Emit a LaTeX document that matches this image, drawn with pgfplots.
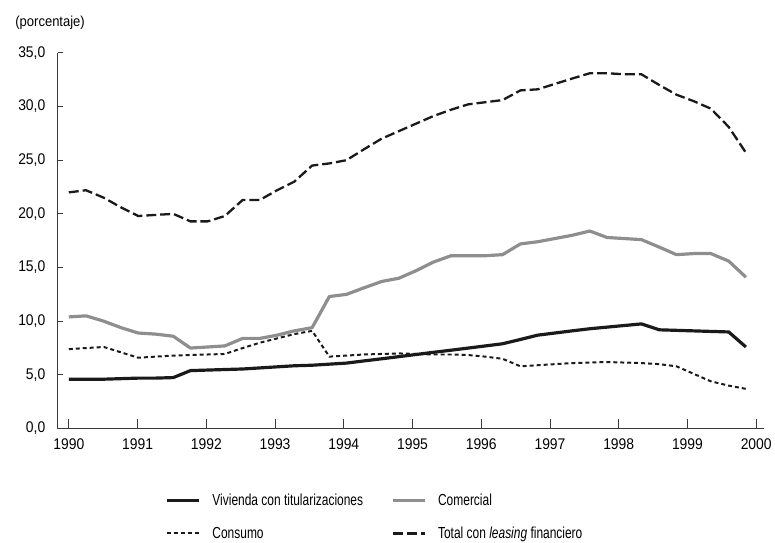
\documentclass[border=0pt]{standalone}
\usepackage{fontspec}
\setmainfont{Liberation Sans}
\newfontfamily\condfont{Liberation Sans}[FakeStretch=0.75]
\newfontfamily\semifont{Liberation Sans}[FakeStretch=0.9]
\usepackage{pgfplots}
\pgfplotsset{compat=1.18}
\usepackage{pgfplotstable}

\definecolor{lineblack}{HTML}{1A1A1A}
\definecolor{linegray}{HTML}{8E8E90}
\definecolor{axisgray}{HTML}{3A3A3A}

% quarterly series, x in years
\pgfplotstableread{
x       viv   com   con   tot
1990.00 4.60  10.4  7.40  22.0
1990.25 4.60  10.5  7.50  22.2
1990.51 4.60  10.0  7.60  21.5
1990.76 4.65  9.4   7.10  20.6
1991.01 4.70  8.9   6.60  19.8
1991.26 4.70  8.8   6.70  19.9
1991.52 4.75  8.6   6.80  20.0
1991.77 5.40  7.5   6.85  19.3
1992.02 5.45  7.6   6.90  19.3
1992.27 5.50  7.7   6.95  19.8
1992.53 5.55  8.4   7.50  21.3
1992.78 5.65  8.4   8.00  21.3
1993.03 5.75  8.7   8.40  22.2
1993.28 5.85  9.1   8.80  23.0
1993.54 5.90  9.4   9.10  24.5
1993.79 6.00  12.3  6.70  24.7
1994.04 6.10  12.5  6.80  25.0
1994.29 6.30  13.1  6.90  26.0
1994.55 6.50  13.7  6.95  27.0
1994.80 6.70  14.0  7.00  27.7
1995.05 6.90  14.7  6.95  28.4
1995.30 7.10  15.5  6.90  29.1
1995.56 7.30  16.1  6.90  29.7
1995.81 7.50  16.1  6.85  30.2
1996.06 7.70  16.1  6.70  30.4
1996.31 7.90  16.2  6.50  30.6
1996.57 8.30  17.2  5.80  31.5
1996.82 8.70  17.4  5.90  31.6
1997.07 8.90  17.7  6.00  32.1
1997.32 9.10  18.0  6.10  32.6
1997.58 9.30  18.4  6.15  33.1
1997.83 9.45  17.8  6.20  33.1
1998.08 9.60  17.7  6.15  33.0
1998.33 9.75  17.6  6.10  33.0
1998.59 9.20  16.9  6.00  32.0
1998.84 9.15  16.2  5.80  31.1
1999.09 9.10  16.3  5.10  30.5
1999.34 9.05  16.3  4.40  29.8
1999.60 9.00  15.6  4.00  28.1
1999.85 7.60  14.1  3.70  25.7
}\datatable

\begin{document}
\begin{tikzpicture}
\begin{axis}[
  scale only axis, width=709pt, height=377pt,
  xmin=1989.84, xmax=2000.12, ymin=0, ymax=35,
  axis x line=bottom, axis y line=left,
  axis line style={-, draw=axisgray, line width=0.8pt},
  xtick={1990,1991,...,2000}, ytick={0,5,...,35},
  tick align=inside,
  xtick style={draw=axisgray, line width=0.8pt, /pgfplots/major tick length=10pt},
  ytick style={draw=axisgray, line width=0.8pt, /pgfplots/major tick length=5pt},
  minor tick num=0,
  x tick label style={/pgf/number format/1000 sep={}, font=\semifont\fontsize{15.5}{17}\selectfont, yshift=-7pt},
  y tick label style={/pgf/number format/.cd, fixed, fixed zerofill, precision=1, use comma, /tikz/.cd, font=\semifont\fontsize{15.5}{17}\selectfont, xshift=-9pt},
  /pgf/number format/assume math mode=true,
  clip=false,
  legend columns=2,
  legend cell align=left,
  legend style={at={(0.152,-0.168)}, anchor=north west, draw=none, fill=none,
    inner sep=0pt, row sep=16pt,
    font=\condfont\fontsize{16}{18}\selectfont,
    /tikz/every even column/.append style={column sep=26pt}},
  legend image code/.code={\draw[#1] (0pt,0pt) -- (32pt,0pt); \path (42pt,0pt);},
]
\path (rel axis cs:-0.0818,-0.3024) rectangle (rel axis cs:1.0113,1.1406);
\addplot[lineblack, line width=3.2pt, line join=round] table[x=x, y=viv] {\datatable};
\addlegendentry{Vivienda con titularizaciones}
\addplot[linegray, line width=3.2pt, line join=round] table[x=x, y=com] {\datatable};
\addlegendentry{Comercial}
\addplot[lineblack, line width=2pt, dash pattern=on 4pt off 3pt] table[x=x, y=con] {\datatable};
\addlegendentry{Consumo}
\addplot[lineblack, line width=2.3pt, dash pattern=on 10pt off 4pt] table[x=x, y=tot] {\datatable};
\addlegendentry{Total con \textit{leasing} financiero}
\node[anchor=west, font=\semifont\fontsize{14.5}{16}\selectfont] at (rel axis cs:-0.065,1.08) {(porcentaje)};
\end{axis}
\end{tikzpicture}
\end{document}
